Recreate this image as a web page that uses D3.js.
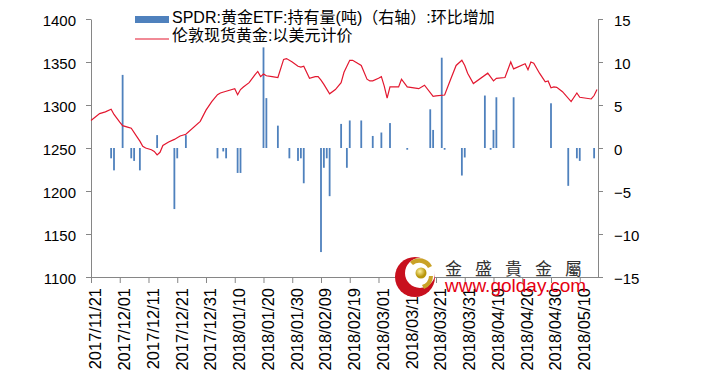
<!DOCTYPE html>
<html>
<head>
<meta charset="utf-8">
<script src="https://cdn.jsdelivr.net/npm/d3@7"></script>
<style>
    body { margin: 0; background: #fff; }
    svg { display: block; font-family: "Liberation Sans", "Noto Sans CJK SC", sans-serif; }
    .axis path, .axis line { stroke: #868686; }
    .axis text { fill: #000; font-size: 15px; }
    .x-axis text { font-size: 16.5px; }
</style>
</head>
<body>
<svg id="chart" width="722" height="382"></svg>
<script>

// ---------------------------------- Data ----------------------------------
var seriesNames = ["SPDR:黄金ETF:持有量(吨)（右轴）:环比增加", "伦敦现货黄金:以美元计价"];

var xTickLabels = ["2017/11/21", "2017/12/01", "2017/12/11", "2017/12/21", "2017/12/31", "2018/01/10",
    "2018/01/20", "2018/01/30", "2018/02/09", "2018/02/19", "2018/03/01", "2018/03/11", "2018/03/21",
    "2018/03/31", "2018/04/10", "2018/04/20", "2018/04/30", "2018/05/10"];
var leftTicks = [1100, 1150, 1200, 1250, 1300, 1350, 1400];
var rightTicks = [-15, -10, -5, 0, 5, 10, 15];

// gold price (left axis)
var goldDates = ["2017/11/21", "2017/11/24", "2017/11/26", "2017/11/28", "2017/11/29", "2017/12/01", "2017/12/02",
    "2017/12/04", "2017/12/05", "2017/12/07", "2017/12/08", "2017/12/09", "2017/12/10", "2017/12/12", "2017/12/13",
    "2017/12/14", "2017/12/15", "2017/12/16", "2017/12/18", "2017/12/20", "2017/12/22", "2017/12/24", "2017/12/29",
    "2017/12/31", "2018/01/02", "2018/01/04", "2018/01/05", "2018/01/07", "2018/01/10", "2018/01/11", "2018/01/12",
    "2018/01/13", "2018/01/15", "2018/01/17", "2018/01/18", "2018/01/19", "2018/01/20", "2018/01/21", "2018/01/23",
    "2018/01/25", "2018/01/27", "2018/01/28", "2018/01/30", "2018/02/01", "2018/02/02", "2018/02/03", "2018/02/05",
    "2018/02/07", "2018/02/08", "2018/02/09", "2018/02/10", "2018/02/12", "2018/02/14", "2018/02/16", "2018/02/17",
    "2018/02/19", "2018/02/20", "2018/02/21", "2018/02/23", "2018/02/25", "2018/02/26", "2018/02/27", "2018/03/01",
    "2018/03/02", "2018/03/03", "2018/03/04", "2018/03/05", "2018/03/08", "2018/03/09", "2018/03/11", "2018/03/15",
    "2018/03/17", "2018/03/20", "2018/03/21", "2018/03/24", "2018/03/26", "2018/03/28", "2018/03/30", "2018/03/31",
    "2018/04/01", "2018/04/03", "2018/04/08", "2018/04/10", "2018/04/11", "2018/04/14", "2018/04/16", "2018/04/17",
    "2018/04/21", "2018/04/22", "2018/04/23", "2018/04/24", "2018/04/26", "2018/04/28", "2018/04/29", "2018/04/30",
    "2018/05/01", "2018/05/02", "2018/05/04", "2018/05/07", "2018/05/09", "2018/05/10", "2018/05/14", "2018/05/15",
    "2018/05/16"];
var goldPrices = [1282, 1290, 1292, 1295, 1289, 1280, 1276,
    1274, 1273, 1263, 1258, 1252, 1250, 1248, 1246,
    1242, 1245, 1253, 1257, 1260, 1264, 1266, 1281,
    1294, 1304, 1312, 1314, 1316, 1319, 1312, 1318,
    1321, 1326, 1335, 1339, 1333, 1336, 1334, 1333,
    1332, 1353, 1354, 1350, 1345, 1344, 1345, 1331,
    1333, 1333, 1329, 1324, 1313, 1318, 1326, 1338,
    1352, 1352, 1350, 1346, 1330, 1328, 1328, 1331,
    1333, 1322, 1308, 1321, 1321, 1330, 1321, 1319,
    1323, 1310, 1310.5, 1311.6, 1329, 1346, 1352, 1346,
    1337, 1325, 1337, 1328, 1331, 1332, 1350, 1342,
    1348, 1341, 1350, 1348.5, 1337, 1327, 1328, 1320,
    1321, 1320.6, 1315.5, 1304, 1314, 1309, 1307, 1311,
    1318];

// SPDR holdings change in tonnes (right axis)
var spdrDates = ["2017/11/28", "2017/11/29", "2017/12/02", "2017/12/05", "2017/12/06", "2017/12/08", "2017/12/14",
    "2017/12/20", "2017/12/21", "2017/12/24", "2018/01/04", "2018/01/06", "2018/01/07", "2018/01/11", "2018/01/12",
    "2018/01/20", "2018/01/21", "2018/01/25", "2018/01/29", "2018/02/01", "2018/02/02", "2018/02/03", "2018/02/09",
    "2018/02/10", "2018/02/11", "2018/02/12", "2018/02/16", "2018/02/18", "2018/02/19", "2018/02/23", "2018/02/27",
    "2018/03/02", "2018/03/05", "2018/03/11", "2018/03/19", "2018/03/20", "2018/03/23", "2018/03/24", "2018/03/30",
    "2018/03/31", "2018/04/07", "2018/04/09", "2018/04/10", "2018/04/11", "2018/04/17", "2018/04/30", "2018/05/06",
    "2018/05/09", "2018/05/10", "2018/05/15"];
var spdrChanges = [-1.2, -2.6, 8.5, -1.2, -1.5, -2.6, 1.5,
    -7.1, -1.2, 1.5, -1.2, -0.4, -1.2, -2.9, -2.9,
    11.7, 5.8, 2.6, -1.2, -1.5, -1.2, -4.1, -12.1,
    -2.3, -1.2, -5.6, 2.8, -2.3, 3.2, 3.2, 1.4,
    1.8, 2.9, -0.2, 4.5, 2.1, 10.5, -0.2, -3.2,
    -1.1, 6.1, -0.2, 2.1, 5.9, 5.9, 5.2, -4.4,
    -1.2, -1.5, -1.2];

// ---------------------------------- Scales ----------------------------------
var parseDate = d3.timeParse("%Y/%m/%d");
var plot = { left: 91, right: 598, top: 19, bottom: 277 };

var x = d3.scaleTime()
    .domain([parseDate("2017/11/21"), new Date(2018, 4, 16, 8, 24)])
    .range([plot.left, plot.right]);
var yLeft = d3.scaleLinear().domain([1100, 1400]).range([plot.bottom, plot.top]);
var yRight = d3.scaleLinear().domain([-15, 15]).range([plot.bottom, plot.top]);

var svg = d3.select("#chart");

// ---------------------------------- Axes ----------------------------------
svg.append("g")
    .attr("class", "axis")
    .attr("transform", "translate(" + plot.left + ",0)")
    .call(d3.axisLeft(yLeft).tickValues(leftTicks).tickFormat(d3.format("d"))
        .tickSize(5).tickSizeOuter(0).tickPadding(10))
    .selectAll("text").attr("dy", "0.45em");

svg.append("g")
    .attr("class", "axis")
    .attr("transform", "translate(" + plot.right + ",0)")
    .call(d3.axisRight(yRight).tickValues(rightTicks).tickFormat(d3.format("d"))
        .tickSize(5).tickSizeOuter(0).tickPadding(11))
    .selectAll("text").attr("dy", "0.45em");

var xAxis = svg.append("g")
    .attr("class", "axis x-axis")
    .attr("transform", "translate(0," + plot.bottom + ")")
    .call(d3.axisBottom(x)
        .tickValues(xTickLabels.map(parseDate))
        .tickFormat(function (d, i) { return xTickLabels[i]; })
        .tickSize(6).tickSizeOuter(0));
xAxis.select(".domain").attr("d", "M" + plot.left + ",0.5H" + plot.right);
xAxis.selectAll("text")
    .attr("transform", "rotate(-90)")
    .attr("x", -11)
    .attr("y", 4)
    .attr("dy", "0.35em")
    .style("text-anchor", "end");

// ---------------------------------- Bars ----------------------------------
var bars = spdrDates.map(function (d, i) { return { date: parseDate(d), value: spdrChanges[i] }; });
svg.append("g")
    .selectAll("rect")
    .data(bars)
    .enter()
    .append("rect")
    .attr("x", function (d) { return x(d.date) - 0.9; })
    .attr("y", function (d) { return yRight(Math.max(0, d.value)); })
    .attr("width", 1.8)
    .attr("height", function (d) { return Math.abs(yRight(d.value) - yRight(0)); })
    .attr("fill", "#4f81bd");

// ---------------------------------- Gold line ----------------------------------
var gold = goldDates.map(function (d, i) { return { date: parseDate(d), value: goldPrices[i] }; });
svg.append("path")
    .datum(gold)
    .attr("fill", "none")
    .attr("stroke", "#e3172f")
    .attr("stroke-width", 1.2)
    .attr("d", d3.line()
        .x(function (d) { return x(d.date); })
        .y(function (d) { return yLeft(d.value); }));

// ---------------------------------- Legend ----------------------------------
var legend = svg.append("g").style("font-size", "16px");
legend.append("rect").attr("x", 135).attr("y", 16).attr("width", 34).attr("height", 7).attr("fill", "#4f81bd");
legend.append("text").attr("x", 172).attr("y", 23).text(seriesNames[0]);
legend.append("line").attr("x1", 135).attr("x2", 169).attr("y1", 39).attr("y2", 39)
    .attr("stroke", "#e3172f").attr("stroke-width", 1.2);
legend.append("text").attr("x", 172).attr("y", 40.5).text(seriesNames[1]);

// ---------------------------------- Watermark ----------------------------------
var mark = svg.append("g");
var defs = svg.append("defs");
var grad = defs.append("radialGradient").attr("id", "ball").attr("cx", "40%").attr("cy", "35%");
grad.append("stop").attr("offset", "0%").attr("stop-color", "#fff3a0");
grad.append("stop").attr("offset", "100%").attr("stop-color", "#b8960a");

mark.append("circle").attr("cx", 415).attr("cy", 277).attr("r", 20).attr("fill", "#c8101e");
mark.append("circle").attr("cx", 420).attr("cy", 273).attr("r", 15).attr("fill", "#fff");
mark.append("path")
    .attr("d", "M410,262 A14,14 0 0 1 432,266 L428,268 A10,10 0 0 0 413,265 Z")
    .attr("fill", "#c9a227");
mark.append("path")
    .attr("d", "M433,276 A14,14 0 0 1 424,289 L422,285 A10,10 0 0 0 429,276 Z")
    .attr("fill", "#c9a227");
mark.append("circle").attr("cx", 421).attr("cy", 273).attr("r", 5.5).attr("fill", "url(#ball)");

mark.append("text")
    .attr("x", 445).attr("y", 275)
    .style("font-size", "17px")
    .style("letter-spacing", "13px")
    .attr("fill", "#333")
    .text("金盛貴金屬");
mark.append("text")
    .attr("x", 445).attr("y", 292)
    .style("font-size", "19px")
    .attr("fill", "#e60012")
    .text("www.golday.com");

</script>
</body>
</html>
